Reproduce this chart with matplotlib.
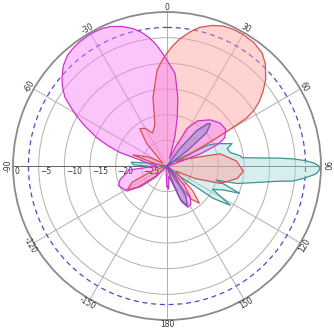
import numpy as np
import matplotlib
matplotlib.use("Agg")
import matplotlib.pyplot as plt

# radiation patterns: (angle in degrees clockwise from north, gain in dB)
magenta_deg = [-180, -170, -150, -135, -128, -122, -116, -112, -106, -100, -96, -90,
               -85, -78, -74, -71, -68, -64, -61, -58, -56, -53, -50, -46, -42, -38, -35, -31,
               -28, -25, -22, -18, -14, -11, -8, -5, -3,
               0, 5, 9, 12, 15, 19, 24, 28, 34, 43, 51, 58, 64, 67, 70, 75,
               90, 130, 138, 143, 148, 153, 158, 164, 170, 176, 180]
magenta_db = [-26, -29, -30, -27, -23.5, -20.8, -20.2, -19.8, -20.5, -22, -22.5, -28,
              -27, -25, -20.4, -17.8, -15.2, -12.2, -9.8, -7.6, -6.0, -4.5, -3.3, -1.9, -1.0, -0.6, -0.4, -0.3,
              -0.3, -0.4, -0.7, -1.4, -2.4, -3.4, -4.7, -6.3, -7.6,
              -9.4, -11.9, -16.5, -20.4, -24, -28.5, -26, -21.7, -19.4, -17.7, -16.7, -16.5, -17.5, -19.3, -23, -29,
              -30, -29, -25, -22.5, -21.2, -21, -22.5, -27, -28, -25.5, -26]

red_deg = [-180, -140, -132, -126, -121, -115, -108, -95, -80, -72, -64, -55,
           -48, -42, -36, -30, -24, -18, -16, -11.6, -6, -3, 0, 3, 6, 10, 13.4, 18, 22, 26, 30,
           35, 40, 44, 48.7, 52, 55, 57.5, 59, 60, 61, 63, 66, 70, 77, 86, 94, 100, 108, 114, 120,
           128, 134, 139, 144, 150, 160, 180]
red_db = [-30, -30, -27, -23, -21, -22.5, -27, -30, -28, -23, -26, -29,
          -28, -24, -21, -21.5, -23, -22, -21.4, -16.4, -11.3, -9.6, -8, -6.4, -5, -3.4, -2.2, -1.2, -0.6, -0.4, -0.4,
          -0.6, -1.2, -2.4, -4.4, -6.2, -8, -10, -12, -16.4, -20, -25, -28, -26, -19.4, -16.4, -15.1, -16.1, -19, -24, -28,
          -27, -23, -20.4, -22, -27, -30, -30]

teal_deg = [-180, -100, -95, -88, -84, -80, -70, 50, 58, 63, 66, 71, 74, 78,
            82, 83.7, 85, 86, 86.8, 87.8, 88.8, 90, 90.7, 91.8, 93, 95, 96.8, 98, 100, 104, 106, 108, 110.6, 113,
            117, 121.8, 125, 129, 140, 180]
teal_db = [-30, -30, -28, -23.5, -23, -27, -30, -30, -28, -21, -19.3, -16.6, -17.8, -17.4,
           -15.6, -15.3, -12, -8, -5.3, -3.0, -1.4, -0.4, -0.2, -0.4, -0.9, -3.0, -5.3, -8.5, -11.7, -15.9, -20, -18, -14.9, -18,
           -20, -15.5, -19, -27, -30, -30]

purple_deg = [-180, 30, 36, 40, 44, 46, 50, 53, 56, 140, 143, 148, 153, 158, 163, 180]
purple_db = [-30, -30, -26, -21, -18.5, -18.2, -20, -25, -29.5, -30, -27, -23, -21.3, -23, -28, -30]

angle_ticks = [0, 30, 60, 90, 120, 150, 180, 210, 240, 270, 300, 330]
angle_labels = ['0', '30', '60', '90', '120', '150', '180', '-150', '-120', '-90', '-60', '-30']
ring_values = [0, -5, -10, -15, -20, -25]

fig = plt.figure(figsize=(3.34, 3.34), dpi=100)
ax = fig.add_axes([0.039, 0.042, 0.922, 0.922], projection='polar')
ax.set_theta_zero_location('N')
ax.set_theta_direction(-1)
ax.set_ylim(-30, 0)

series = [
    (teal_deg, teal_db, '#a8dada', '#3a9595'),
    (red_deg, red_db, '#ff9f9a', '#d9514e'),
    (magenta_deg, magenta_db, '#f77ef7', '#cc33cc'),
    (purple_deg, purple_db, '#8a7fc8', '#6a58b0'),
]
for deg, db, face, edge in series:
    th = np.deg2rad(deg)
    ax.fill(th, db, facecolor=face, alpha=0.45, edgecolor='none', zorder=3)
    ax.plot(th, db, color=edge, lw=0.9, zorder=4)

# grid
ax.set_xticks(np.deg2rad(angle_ticks))
ax.set_xticklabels([])
ax.set_yticks([-25, -20, -15, -10, -5])
ax.set_yticklabels([])
ax.grid(color='#b0b0b0', lw=0.7)
ax.spines['polar'].set_color('#8a8a8a')
ax.spines['polar'].set_linewidth(1.3)

# darker horizontal axis
ax.plot(np.deg2rad([90, 90]), [-30, 0], color='#666666', lw=0.7, zorder=2)
ax.plot(np.deg2rad([270, 270]), [-30, 0], color='#666666', lw=0.7, zorder=2)

# -3 dB dashed circle
circ = np.linspace(0, 2 * np.pi, 361)
ax.plot(circ, np.full_like(circ, -3), color='#4a4acc', lw=0.9, ls=(0, (4, 3)), zorder=2)

# angle labels sitting on the outer ring
for a, lab in zip(angle_ticks, angle_labels):
    t = np.deg2rad(a)
    if 90 < a < 270:
        rot = 180 - a
    else:
        rot = -a
    ax.text(0.5 + 0.515 * np.sin(t), 0.5 + 0.515 * np.cos(t), lab, transform=ax.transAxes,
            ha='center', va='center', rotation=rot, fontsize=5.5, color='#333333',
            rotation_mode='anchor')

# dB labels along the left axis
for v in ring_values:
    x = 0.5 - 0.5 * (v + 30) / 30 + 0.006
    ax.text(x, 0.497, str(v).replace('-', '\u2212'), transform=ax.transAxes,
            ha='left', va='top', fontsize=5.5, color='#333333')

fig.savefig('out.png', dpi=100)
